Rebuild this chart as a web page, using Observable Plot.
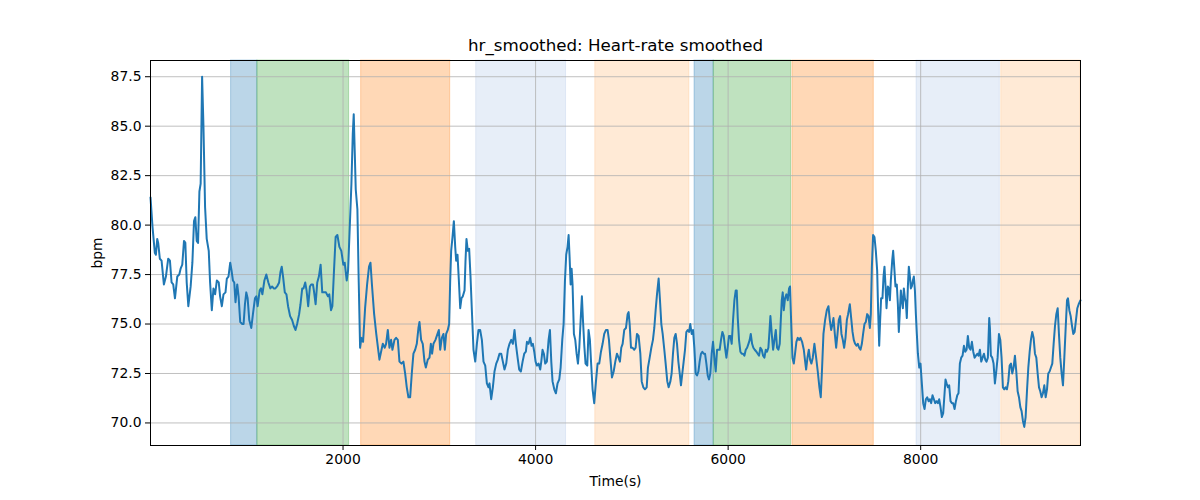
<!DOCTYPE html>
<html><head><meta charset="utf-8">
<script src="https://cdn.jsdelivr.net/npm/d3@7"></script>
<script src="https://cdn.jsdelivr.net/npm/@observablehq/plot@0.6"></script>
<style>body{margin:0;background:#fff}</style>
</head><body><div id="chart"></div>
<script>
const time = [0,21,45,56,70,80,97,115,139,160,184,202,219,236,254,278,299,313,330,348,362,376,393,417,435,452,466,480,494,508,521,536,550,567,584,605,619,637,654,671,689,709,723,741,758,779,793,810,828,842,856,870,883,901,915,932,953,967,981,995,1009,1026,1047,1064,1085,1099,1113,1134,1148,1162,1183,1203,1224,1245,1263,1280,1297,1315,1336,1349,1363,1377,1395,1412,1429,1450,1471,1489,1506,1523,1544,1558,1576,1589,1607,1621,1638,1656,1669,1687,1697,1715,1732,1749,1767,1784,1802,1822,1843,1857,1875,1889,1906,1923,1941,1962,1982,2003,2017,2038,2052,2069,2087,2101,2111,2121,2132,2149,2163,2177,2191,2208,2229,2250,2270,2285,2300,2323,2345,2365,2378,2395,
2413,2433,2447,2465,2482,2499,2513,2534,2551,2569,2586,2607,2627,2645,2662,2679,2697,2714,2731,2749,2766,2783,2794,2811,2828,2846,2860,2880,2898,2912,2925,2939,2960,2981,2995,3009,3026,3043,3057,3071,3088,3102,3113,3123,3137,3151,3165,3175,3189,3203,3217,3230,3244,3262,3272,3282,3296,3310,3324,3338,3355,3373,3390,3407,3424,3442,3459,3477,3494,3511,3521,3539,3556,3573,3591,3608,3625,3643,3660,3677,3695,3712,3729,3747,3764,3781,3795,3813,3830,3847,3865,3882,3899,3910,3927,3944,3958,3972,3986,4000,4014,4031,4048,4059,4072,4086,4100,4117,4135,4149,4163,4176,4194,4211,4228,4246,4260,4277,4291,4305,4318,4332,4343,4353,4364,4374,4384,4398,4412,4426,4440,4454,4468,4481,4492,4506,4519,4537,4550,4564,4578,4592,4609,4627,4644,
4661,4679,4696,4713,4731,4748,4762,4776,4793,4811,4828,4845,4862,4876,4890,4904,4921,4939,4956,4966,4977,4991,5008,5025,5039,5053,5070,5088,5102,5119,5136,5154,5167,5185,5202,5219,5233,5247,5261,5278,5292,5306,5320,5337,5351,5368,5382,5400,5413,5427,5441,5455,5469,5483,5497,5510,5524,5538,5552,5566,5580,5594,5607,5621,5635,5649,5663,5677,5691,5704,5718,5732,5746,5760,5774,5788,5801,5815,5829,5843,5857,5871,5885,5898,5912,5926,5940,5954,5968,5982,5995,6009,6023,6037,6051,6065,6079,6089,6100,6113,6127,6141,6155,6169,6183,6197,6211,6224,6235,6249,6262,6276,6294,6307,6321,6335,6349,6363,6377,6391,6404,6418,6429,6439,6453,6467,6481,6495,6508,6522,6536,6547,6557,6567,6578,6591,6605,6619,6633,6643,6654,6668,6682,6695,6709,6723,6737,
6751,6768,6786,6800,6810,6824,6838,6851,6865,6879,6896,6914,6931,6948,6962,6976,6990,7007,7025,7042,7056,7070,7084,7094,7108,7122,7136,7149,7163,7177,7191,7205,7219,7233,7246,7264,7278,7292,7305,7319,7333,7347,7361,7375,7389,7402,7416,7430,7444,7458,7472,7482,7493,7506,7520,7534,7548,7558,7569,7579,7589,7603,7614,7624,7635,7645,7659,7669,7680,7690,7704,7714,7725,7738,7752,7763,7773,7784,7794,7804,7815,7825,7836,7846,7856,7867,7877,7888,7898,7908,7919,7929,7940,7950,7960,7971,7985,7998,8012,8026,8040,8054,8068,8082,8095,8109,8123,8137,8151,8165,8179,8192,8206,8220,8234,8248,8258,8269,8283,8296,8310,8324,8338,8352,8366,8380,8393,8407,8421,8435,8449,8463,8477,8490,8504,8518,8532,8546,8560,8574,8588,8601,8615,8629,8643,8657,8671,8684,8698,8712,8719,8729,8743,8757,8771,8785,8799,8813,8827,8840,8854,8868,8882,8896,8910,8924,8938,8951,8965,8979,8993,9007,9021,9035,9048,9062,9076,9090,9104,9118,9132,9145,9159,9173,9187,9201,9215,9229,9242,9256,9270,9284,9298,9312,9325,9339,9353,9367,9381,9395,9409,9423,9436,9450,9464,9478,9492,9506,9520,9530,9544,9558,9572,9585,9599,9613,9627,9641,9660];

const hr = [81.4,79.9,78.6,78.5,79.3,79.1,78.3,78.2,77.0,77.4,78.3,78.2,77.1,77.0,76.3,77.4,77.5,77.8,78.0,79.2,79.1,77.1,75.9,76.9,78.1,80.2,80.4,79.2,79.1,81.7,82.1,87.5,85.0,80.9,79.3,78.7,77.1,75.7,76.8,76.5,77.2,77.1,76.4,75.9,76.5,76.6,77.3,77.4,78.1,77.7,77.2,77.1,76.1,77.0,76.4,75.1,75.0,75.0,76.0,76.6,76.3,75.2,74.8,75.5,76.3,76.4,75.9,76.7,76.8,76.5,77.2,77.5,77.1,76.8,76.9,76.8,76.8,76.9,77.1,77.6,77.9,77.4,76.6,76.5,75.9,75.4,75.2,74.9,74.7,75.0,75.5,76.0,76.8,76.8,77.1,76.7,75.9,76.9,77.0,77.0,76.7,76.0,77.1,77.4,78.0,76.6,76.6,76.6,76.4,76.5,75.7,75.9,77.7,79.4,79.5,78.9,78.7,78.0,78.1,77.2,77.7,79.8,82.1,84.6,85.6,83.8,81.8,80.8,77.1,73.8,74.3,74.1,75.8,77.0,77.9,78.1,77.0,75.5,74.5,73.7,73.2,73.6,
74.0,73.8,74.0,74.7,73.8,74.2,73.7,74.2,74.3,74.2,73.1,73.0,73.1,72.5,71.8,71.3,71.3,72.5,73.5,73.7,74.0,74.8,75.1,74.2,74.0,73.1,72.8,73.2,73.3,74.0,73.5,74.0,74.2,74.5,74.7,73.7,74.3,74.5,73.7,74.5,74.7,75.0,77.2,78.7,79.4,80.2,78.9,78.2,78.5,77.2,75.8,76.3,76.4,76.7,78.2,79.3,78.7,78.8,77.4,75.7,73.7,73.1,74.0,74.7,74.7,74.2,73.1,72.9,72.0,71.8,72.0,71.2,71.8,72.6,73.0,73.2,73.5,73.5,73.1,72.7,73.0,73.7,74.0,74.2,74.0,74.7,74.0,73.3,72.7,72.6,73.1,73.5,73.6,74.1,74.0,74.3,73.9,74.0,73.6,73.1,72.9,73.0,72.7,73.1,73.7,73.5,73.0,73.1,74.2,74.7,73.1,72.1,71.7,71.5,72.0,72.2,72.8,74.2,75.0,77.2,78.5,78.9,79.5,78.4,77.0,77.8,77.0,74.5,74.2,73.5,73.0,73.8,75.2,76.4,75.2,73.9,73.0,72.9,74.7,74.2,72.9,71.7,71.0,72.1,73.0,
73.0,73.6,74.0,74.5,74.7,74.7,74.2,73.3,72.3,72.6,73.1,73.5,73.3,73.1,73.8,74.0,74.7,74.8,75.5,75.6,75.0,73.8,73.8,73.7,73.8,74.5,74.4,73.5,72.1,71.8,71.7,71.8,72.8,73.3,73.8,74.2,74.8,75.7,76.5,77.3,76.2,75.0,74.5,73.7,73.0,72.1,71.8,72.1,72.5,73.5,74.3,74.5,74.0,73.1,72.5,71.9,72.5,73.1,73.7,74.6,74.7,74.6,75.0,74.5,74.7,73.8,72.5,72.4,72.6,73.1,73.5,73.6,73.5,73.5,73.0,72.4,72.2,72.5,73.5,74.1,73.3,72.6,73.7,73.7,73.7,74.2,74.6,74.4,73.8,73.3,73.8,74.4,74.4,74.0,75.2,76.2,76.7,76.7,75.3,74.2,73.6,73.5,73.5,73.4,73.7,73.8,74.0,74.2,74.5,74.0,73.8,73.7,73.6,73.5,73.4,73.8,73.7,73.4,73.3,73.7,73.6,73.8,74.6,75.4,74.5,73.7,74.2,74.7,73.8,73.7,74.0,75.2,76.2,76.6,75.7,76.3,76.5,76.2,76.8,76.9,75.2,73.3,73.0,73.5,74.1,74.3,74.2,
74.3,74.1,73.7,73.1,72.7,73.3,73.7,73.2,73.0,73.3,74.0,73.3,72.6,71.8,71.3,72.8,74.5,75.2,75.7,75.9,75.2,74.7,75.0,75.3,74.5,73.8,74.5,75.2,75.4,74.5,74.2,73.8,74.3,75.2,75.5,76.0,75.3,74.6,74.2,74.0,73.9,74.0,73.8,73.7,74.0,74.5,75.0,75.1,75.5,75.4,74.8,75.5,77.9,79.5,79.4,78.7,77.7,75.7,73.9,75.2,76.3,76.3,77.4,77.9,76.9,75.8,76.9,76.8,76.2,77.2,78.2,78.7,77.9,76.9,77.0,76.0,74.6,75.7,76.7,76.2,75.8,76.8,76.3,76.1,75.3,76.9,77.9,77.4,76.8,76.9,77.2,77.4,76.7,75.5,74.5,73.5,72.8,73.0,72.0,71.0,70.7,71.2,71.3,71.1,71.2,71.0,71.4,71.2,71.0,71.1,71.0,71.2,70.8,70.3,70.5,71.5,72.2,72.0,71.8,71.9,71.1,71.0,71.0,70.7,71.1,71.4,71.5,73.0,73.3,73.4,73.9,73.6,73.7,74.4,73.8,73.7,74.1,73.6,73.3,73.4,73.5,73.4,73.7,73.1,73.3,73.5,73.2,73.1,73.3,75.3,74.8,73.4,73.3,73.0,72.0,72.6,73.3,74.5,74.2,73.3,71.8,71.7,71.8,71.7,72.1,72.9,73.0,72.5,72.8,73.4,72.6,71.6,71.3,70.8,70.6,70.1,69.8,70.3,71.6,72.8,73.6,74.2,74.6,74.3,73.5,73.3,72.5,71.8,71.6,71.3,71.5,71.9,71.3,71.7,72.5,72.6,72.8,73.0,74.0,74.9,75.5,75.8,74.5,73.3,72.5,71.9,73.3,74.8,76.2,76.3,75.7,75.4,74.9,74.5,74.6,75.2,75.8,76.0,76.2];

const spanStart = [837,1110,2188,3383,4620,5651,5850,6668,7957,8837];
const spanEnd = [1110,2063,3113,4316,5597,5850,6654,7513,8822,9660];
const spanKind = ["A","B","C","D","E","A","B","C","D","E"];
const kindDomain = ["A","B","C","D","E"];
const kindColors = ["#1f77b4","#2ca02c","#ff7f0e","#aec7e8","#ffbb78"];
const xTicks = [2000,4000,6000,8000];
const yTicks = [70,72.5,75,77.5,80,82.5,85,87.5];
const titleText = "hr_smoothed: Heart-rate smoothed";
const xLabel = "Time(s)";
const yLabel = "bpm";

const rows = time.map((t,i)=>({t, v: hr[i]}));
const spans = spanStart.map((s,i)=>({x1:s, x2:spanEnd[i], kind:spanKind[i]}));
const gridStyle = {stroke:"#b0b0b0", strokeOpacity:1, strokeWidth:0.8};

const chart = Plot.plot({
  width:1200, height:500,
  marginLeft:150, marginRight:120, marginTop:60, marginBottom:55,
  style:{fontFamily:"DejaVu Sans", fontSize:"13.9px", color:"black", background:"white"},
  x:{domain:[0,9660], label:null},
  y:{domain:[68.86,88.32], label:null},
  color:{domain:kindDomain, range:kindColors},
  marks:[
    Plot.rect(spans,{x1:"x1", x2:"x2", fill:"kind", fillOpacity:0.3, stroke:"kind", strokeOpacity:0.3, strokeWidth:1}),
    Plot.gridX(xTicks, gridStyle),
    Plot.gridY(yTicks, gridStyle),
    Plot.line(rows,{x:"t", y:"v", stroke:"#1f77b4", strokeWidth:2}),
    Plot.frame({stroke:"black", strokeWidth:1}),
    Plot.axisX(xTicks,{tickSize:5, tickPadding:4, tickFormat:d=>String(d), label:null}),
    Plot.axisY(yTicks,{tickSize:5, tickPadding:4, tickFormat:d=>d.toFixed(1), label:null}),
    Plot.text([titleText],{frameAnchor:"top", lineAnchor:"top", dy:-21, fontSize:16.7}),
    Plot.text([xLabel],{frameAnchor:"bottom", lineAnchor:"middle", dy:36}),
    Plot.text([yLabel],{frameAnchor:"left", textAnchor:"middle", lineAnchor:"middle", dx:-53, rotate:-90})
  ]
});
document.getElementById("chart").appendChild(chart);
</script>
</body></html>
